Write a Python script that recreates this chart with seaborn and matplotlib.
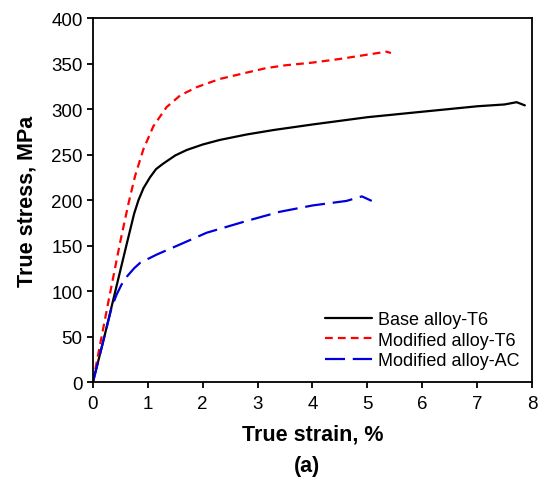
import numpy as np
import pandas as pd
import matplotlib
matplotlib.use("Agg")
import matplotlib.pyplot as plt
import seaborn as sns

# --- dados ---
base_strain = [0, 0.2, 0.4, 0.6, 0.75, 0.83, 0.92, 1.04, 1.15, 1.28, 1.5, 1.71, 2.0,
               2.31, 2.8, 3.3, 4.0, 4.5, 5.0, 5.5, 5.83, 6.5, 7.0, 7.5, 7.72, 7.87]
base_stress = [0, 48, 98, 148, 185, 200, 213, 225, 234, 240, 249, 255, 261,
               266, 272, 277, 283, 287, 291, 294, 296, 300, 303, 305, 307.5, 304]

mod_t6_strain = [0, 0.1, 0.28, 0.5, 0.65, 0.77, 0.92, 1.1, 1.34, 1.59, 1.89, 2.31,
                 2.8, 3.16, 3.5, 4.0, 4.5, 4.92, 5.35, 5.43]
mod_t6_stress = [0, 32, 88, 155, 197, 227, 256, 281, 302, 315, 324, 333,
                 340, 345, 348, 351, 355, 359, 363, 361.5]

mod_ac_strain = [0, 0.2, 0.34, 0.43, 0.52, 0.62, 0.75, 0.86, 1.16, 1.58, 2.07, 2.8,
                 3.4, 4.0, 4.62, 4.9, 5.08]
mod_ac_stress = [0, 48, 82, 96, 107, 116, 125, 131, 140, 151, 164, 177,
                 187, 194, 199, 204, 199]

rotulos = ['Base alloy-T6', 'Modified alloy-T6', 'Modified alloy-AC']

sns.set_theme(style="white")
plt.rcParams['font.family'] = ['Liberation Sans', 'DejaVu Sans']
plt.rcParams['text.color'] = 'black'

fig = plt.figure(figsize=(5.39, 4.85), dpi=100)
ax = fig.add_axes([0.1725, 0.2103, 0.8145, 0.7505])

sns.lineplot(x=base_strain, y=base_stress, sort=False, color='black', lw=1.6,
             label=rotulos[0], ax=ax)
sns.lineplot(x=mod_t6_strain, y=mod_t6_stress, sort=False, color='#ff0000', lw=1.6,
             label=rotulos[1], ax=ax)
sns.lineplot(x=mod_ac_strain, y=mod_ac_stress, sort=False, color='#0000dd', lw=1.6,
             label=rotulos[2], ax=ax)

linhas = ax.get_lines()
linhas[1].set_dashes([3.5, 2.3])
linhas[2].set_dashes([9, 3.5])

ax.set_xlim(0, 8)
ax.set_ylim(0, 400)
ax.set_xticks(range(0, 9))
ax.set_yticks(range(0, 401, 50))
ax.tick_params(direction='out', length=4.5, width=1.3, labelsize=13.5, colors='black',
               bottom=True, left=True, top=False, right=False)
ax.tick_params(axis='x', pad=5)
ax.tick_params(axis='y', pad=3)
for s in ax.spines.values():
    s.set_color('black')
    s.set_linewidth(1.3)

ax.set_xlabel('True strain, %', fontsize=15.5, weight='bold', labelpad=8, color='black')
ax.set_ylabel('True stress, MPa', fontsize=15.5, weight='bold', labelpad=10, color='black')

leg = ax.legend(loc='lower right', bbox_to_anchor=(1.0, 0.0), frameon=False,
                fontsize=13, handlelength=2.6, handletextpad=0.35, labelspacing=0.2,
                borderaxespad=0.3)
for t in leg.get_texts():
    t.set_color('black')

fig.text(0.57, 0.039, '(a)', ha='center', va='center', fontsize=15.5, weight='bold')

plt.savefig('out.png', dpi=100)
